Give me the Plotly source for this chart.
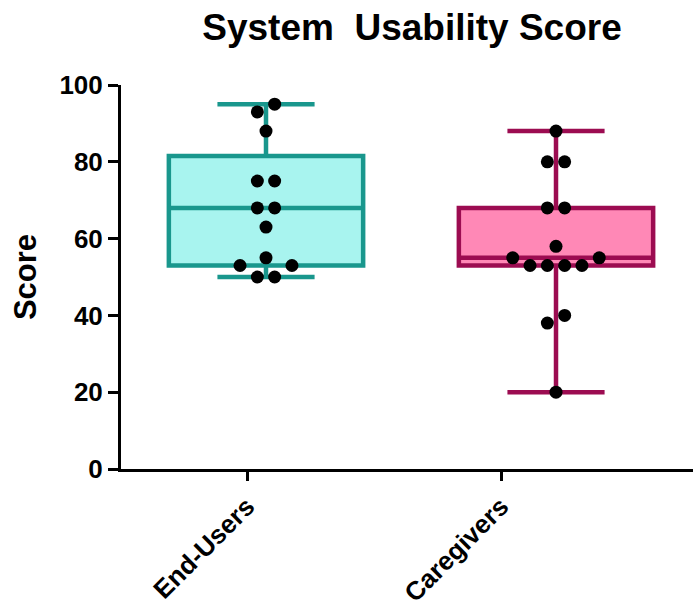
import numpy as np
import plotly.graph_objects as go
from collections import Counter

# ---- data ----
groups = ["End-Users", "Caregivers"]
end_users = [95, 93, 88, 75, 75, 68, 68, 63, 55, 53, 53, 50, 50]
caregivers = [88, 80, 80, 68, 68, 58, 55, 55, 53, 53, 53, 53, 40, 38, 20]
y_ticks = [0, 20, 40, 60, 80, 100]

# ---- layout geometry ----
W, H = 693, 607
ML, MR, MT, MB = 121, 0, 85, 138
plot_w = W - ML - MR
plot_h = H - MT - MB
box_pos = [0.0, 1.0]
px_per_x = 290.0
x0 = -(266 - ML) / px_per_x
x1 = x0 + plot_w / px_per_x
px_per_y = plot_h / 100.0
tick_pos = [(247 - 266) / px_per_x, (501 - 266) / px_per_x]

fills = ["#a8f4ef", "#ff88b6"]
lines = ["#19978d", "#9c0c51"]


def stats(vals):
    v = np.sort(np.array(vals, dtype=float))
    n = len(v)
    med = float(np.median(v))
    half = n // 2
    lo = v[:half]
    hi = v[n - half:]
    return float(np.median(lo)), med, float(np.median(hi)), float(v.min()), float(v.max())


def swarm(vals, d=17.3, D=13.5):
    cnt = Counter(vals)
    placed = []
    out = []
    multi = sorted([(v, n) for v, n in cnt.items() if n > 1], key=lambda t: (-t[1], t[0]))
    singles = sorted([v for v, n in cnt.items() if n == 1])
    clusters = []
    for v in singles:
        if clusters and (v - clusters[-1][-1]) * px_per_y < D:
            clusters[-1].append(v)
        else:
            clusters.append([v])

    def collide(pts):
        for (px, py) in pts:
            for (qx, qy) in placed:
                if np.hypot(px - qx, py - qy) < D:
                    return True
        return False

    def place_group(ys):
        n = len(ys)
        base = [(i - (n - 1) / 2) * d for i in range(n)]
        s = 0
        while True:
            cands = []
            if n % 2 == 0:
                cands.append([np.sign(o) * (abs(o) + s * d) for o in base])
            else:
                if s == 0:
                    cands.append(base)
                else:
                    cands.append([o + s * d / 2 for o in base])
                    cands.append([o - s * d / 2 for o in base])
            for offs in cands:
                pts = [(o, y * px_per_y) for o, y in zip(offs, ys)]
                if not collide(pts):
                    placed.extend(pts)
                    for o, y in zip(offs, ys):
                        out.append((o, y))
                    return
            s += 1

    for v, n in multi:
        place_group([v] * n)
    for c in clusters:
        place_group(sorted(c))
    return out


fig = go.Figure()
for i, (name, vals) in enumerate(zip(groups, [end_users, caregivers])):
    q1, med, q3, mn, mx = stats(vals)
    fig.add_trace(go.Box(
        x=[box_pos[i]], q1=[q1], median=[med], q3=[q3],
        lowerfence=[mn], upperfence=[mx],
        width=0.67, whiskerwidth=0.5,
        fillcolor=fills[i], line=dict(color=lines[i], width=4.5),
        boxpoints=False, showlegend=False, name=name, hoverinfo="skip",
    ))
    pts = swarm(vals)
    fig.add_trace(go.Scatter(
        x=[box_pos[i] + o / px_per_x for o, _ in pts],
        y=[y for _, y in pts],
        mode="markers",
        marker=dict(color="black", size=13),
        showlegend=False, cliponaxis=False,
    ))

fig.update_layout(
    width=W, height=H,
    margin=dict(l=ML, r=MR, t=MT, b=MB),
    paper_bgcolor="white", plot_bgcolor="white",
    font=dict(family="Liberation Sans, Arial, sans-serif", color="black"),
    title=dict(text="System  Usability Score", x=412 / W, xref="container",
               xanchor="center", y=1 - 27 / H, yref="container", yanchor="middle",
               font=dict(size=37, weight="bold", color="black")),
    xaxis=dict(range=[x0, x1], showgrid=False, zeroline=False,
               showline=True, linecolor="black", linewidth=3,
               ticks="outside", ticklen=9, tickwidth=3, tickcolor="black",
               tickvals=tick_pos, ticktext=groups, tickangle=-45,
               tickfont=dict(size=26, weight="bold")),
    yaxis=dict(range=[0, 100], showgrid=False, zeroline=False,
               showline=True, linecolor="black", linewidth=3,
               ticks="outside", ticklen=10, tickwidth=3, tickcolor="black",
               tickvals=y_ticks, tickfont=dict(size=26, weight="bold"),
               title=dict(text="Score", font=dict(size=31, weight="bold"), standoff=14)),
)

fig.write_html("out.html", config={"displayModeBar": False},
               post_script="document.body.style.margin='0';document.body.style.overflow='hidden';")
